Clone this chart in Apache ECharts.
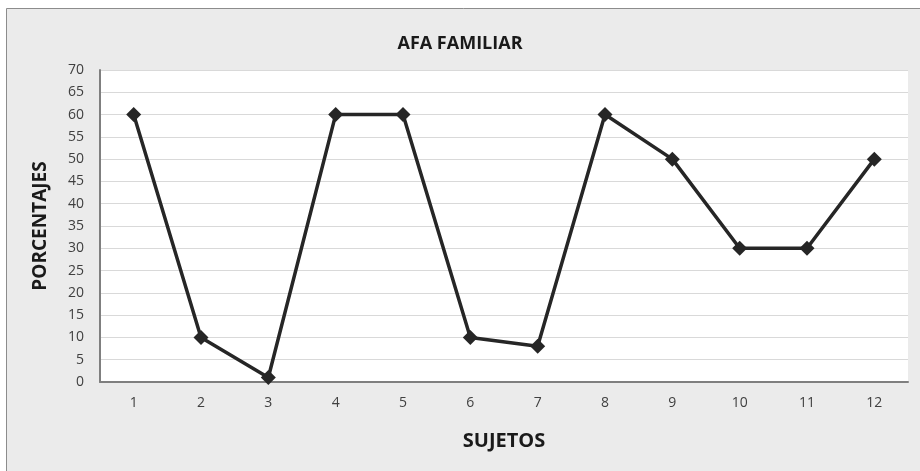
<!DOCTYPE html>
<html><head><meta charset="utf-8">
<script src="https://cdn.jsdelivr.net/npm/echarts@6/dist/echarts.min.js"></script>
<style>html,body{margin:0;padding:0;background:#fff}#c{width:920px;height:471px}</style>
</head><body><div id="c"></div>
<script>
const categories = ['1','2','3','4','5','6','7','8','9','10','11','12'];
const values = [60, 10, 1, 60, 60, 10, 8, 60, 50, 30, 30, 50];
const titleText = 'AFA FAMILIAR';
const xName = 'SUJETOS';
const yName = 'PORCENTAJES';

const chart = echarts.init(document.getElementById('c'));
const F = '"Open Sans", sans-serif';
chart.setOption({
  animation: false,
  backgroundColor: '#ffffff',
  graphic: [{
    type: 'rect', z: -10, silent: true,
    shape: { x: 6.5, y: 8.5, width: 920, height: 470 },
    style: { fill: '#ebebeb', stroke: '#8c8c8c', lineWidth: 1 }
  }],
  title: {
    text: titleText, left: 'center', top: 30,
    textStyle: { fontFamily: F, fontWeight: 'bold', fontSize: 18, color: '#1a1a1a' }
  },
  grid: { left: 100, top: 70, right: 12, bottom: 89, backgroundColor: '#ffffff', show: true, borderWidth: 0 },
  xAxis: {
    type: 'category', data: categories, boundaryGap: true,
    name: xName, nameLocation: 'middle', nameGap: 49,
    nameTextStyle: { fontFamily: F, fontWeight: 'bold', fontSize: 20, color: '#1a1a1a' },
    axisLine: { lineStyle: { color: '#7f7f7f', width: 2 } },
    axisTick: { show: false },
    axisLabel: { fontFamily: F, fontSize: 14, color: '#404040', margin: 14 }
  },
  yAxis: {
    type: 'value', min: 0, max: 70, interval: 5,
    name: yName, nameLocation: 'middle', nameGap: 50,
    nameTextStyle: { fontFamily: F, fontWeight: 'bold', fontSize: 19, color: '#1a1a1a' },
    axisLine: { show: true, lineStyle: { color: '#7f7f7f', width: 2 } },
    axisTick: { show: false },
    axisLabel: { fontFamily: F, fontSize: 14, color: '#404040', margin: 16 },
    splitLine: { lineStyle: { color: '#d9d9d9', width: 1 } }
  },
  series: [{
    type: 'line', data: values,
    symbol: 'diamond', symbolSize: 15,
    lineStyle: { color: '#262626', width: 3.5 },
    itemStyle: { color: '#262626' }
  }]
});
</script></body></html>
